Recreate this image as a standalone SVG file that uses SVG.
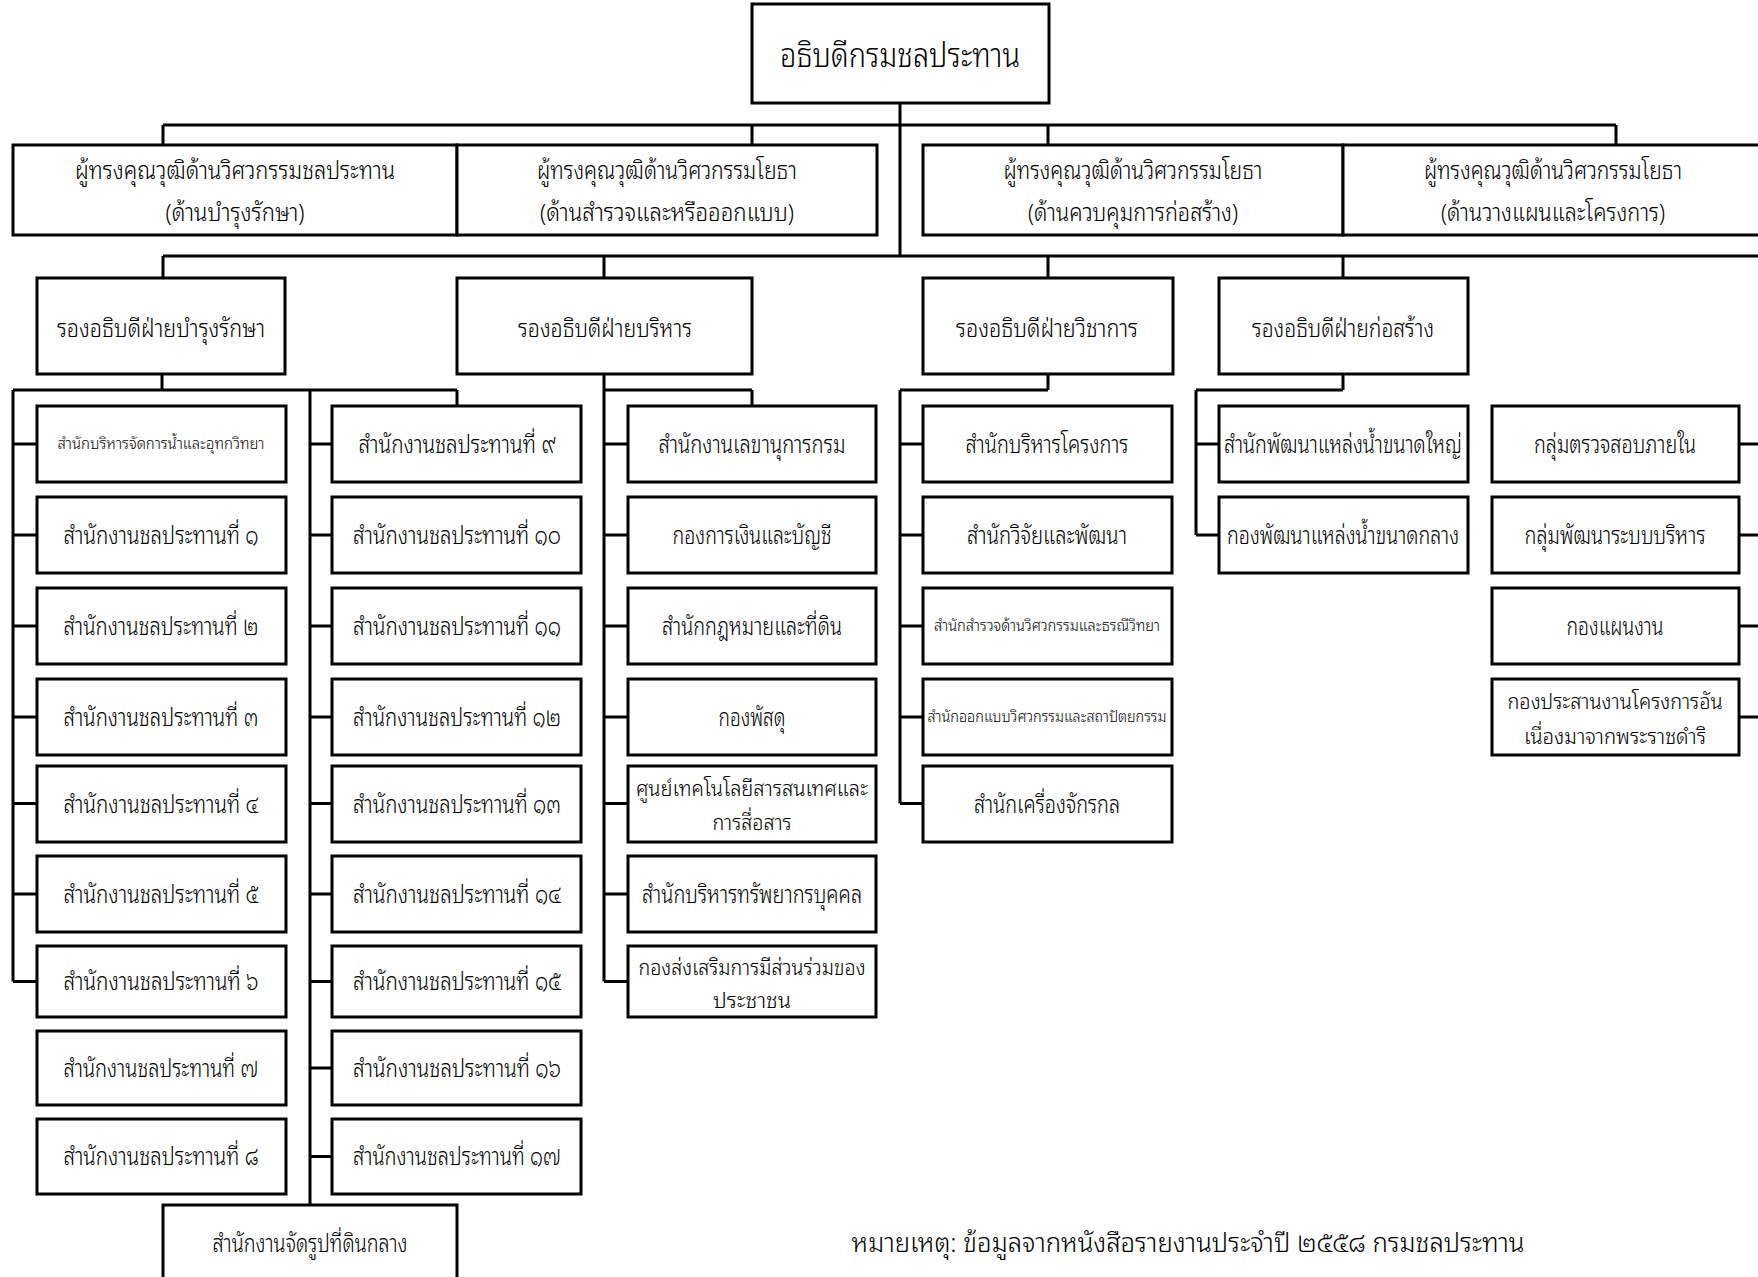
<svg xmlns="http://www.w3.org/2000/svg" width="1758" height="1277" viewBox="0 0 1758 1277">
<style>
.b{fill:#fff;stroke:#000;stroke-width:3}
.c{fill:none;stroke:#000;stroke-width:3}
text{font-family:"Noto Sans Thai Looped","Noto Sans Thai","Noto Sans","DejaVu Sans",sans-serif;font-weight:300;fill:#000;text-anchor:middle;font-size:24px}
.h{font-size:34px}
.s{font-size:15px}
.d{font-size:22px}
</style>
<rect width="1758" height="1277" fill="#fff"/>
<g id="connectors" class="c">
<path d="M900,103V256M163,125H1616M163,125V145M752,125V145M1048,125V145M1616,125V145"/>
<path d="M163,256H1758M163,256V278M604,256V278M1048,256V278M1343,256V278"/>
<path d="M162,374V390M13,390H457M13,390V981.5M457,390V406M310,390V1205"/>
<path d="M13,444H37M13,535H37M13,626H37M13,717H37M13,803.5H37M13,894H37M13,981.5H37"/>
<path d="M310,444H332M310,535H332M310,626H332M310,717H332M310,803.5H332M310,894H332M310,981.5H332M310,1068H332M310,1156.5H332"/>
<path d="M604,374V981.5M604,390H752M752,390V406M604,444H628M604,535H628M604,626H628M604,717H628M604,803.5H628M604,894H628M604,981.5H628"/>
<path d="M1048,374V390M900,390H1048M900,390V803.5M900,444H923M900,535H923M900,626H923M900,717H923M900,803.5H923"/>
<path d="M1343,374V390M1196,390H1343M1196,390V535M1196,444H1219M1196,535H1219"/>
<path d="M1739,444H1758M1739,535H1758M1739,626H1758M1739,717H1758"/>
</g>
<g id="director"><rect class="b" x="752" y="4" width="297" height="99"/><text class="h" x="900" y="67" textLength="240" lengthAdjust="spacingAndGlyphs">อธิบดีกรมชลประทาน</text></g>
<g id="expert-maint"><rect class="b" x="13" y="145" width="444" height="90"/><text x="235" y="179" textLength="320" lengthAdjust="spacingAndGlyphs">ผู้ทรงคุณวุฒิด้านวิศวกรรมชลประทาน</text><text x="235" y="221" textLength="139" lengthAdjust="spacingAndGlyphs">(ด้านบำรุงรักษา)</text></g>
<g id="expert-survey"><rect class="b" x="457" y="145" width="420" height="90"/><text x="667" y="179" textLength="260" lengthAdjust="spacingAndGlyphs">ผู้ทรงคุณวุฒิด้านวิศวกรรมโยธา</text><text x="667" y="221" textLength="254" lengthAdjust="spacingAndGlyphs">(ด้านสำรวจและหรือออกแบบ)</text></g>
<g id="expert-construct"><rect class="b" x="923" y="145" width="420" height="90"/><text x="1133" y="179" textLength="259" lengthAdjust="spacingAndGlyphs">ผู้ทรงคุณวุฒิด้านวิศวกรรมโยธา</text><text x="1133" y="221" textLength="210" lengthAdjust="spacingAndGlyphs">(ด้านควบคุมการก่อสร้าง)</text></g>
<g id="expert-plan"><rect class="b" x="1343" y="145" width="420" height="90"/><text x="1553" y="179" textLength="258" lengthAdjust="spacingAndGlyphs">ผู้ทรงคุณวุฒิด้านวิศวกรรมโยธา</text><text x="1553" y="221" textLength="224" lengthAdjust="spacingAndGlyphs">(ด้านวางแผนและโครงการ)</text></g>
<g id="dep-maint"><rect class="b" x="37" y="278" width="248" height="96"/><text x="161" y="337" textLength="208" lengthAdjust="spacingAndGlyphs">รองอธิบดีฝ่ายบำรุงรักษา</text></g>
<g id="dep-admin"><rect class="b" x="457" y="278" width="295" height="96"/><text x="605" y="337" textLength="174" lengthAdjust="spacingAndGlyphs">รองอธิบดีฝ่ายบริหาร</text></g>
<g id="dep-tech"><rect class="b" x="923" y="278" width="250" height="96"/><text x="1047" y="337" textLength="182" lengthAdjust="spacingAndGlyphs">รองอธิบดีฝ่ายวิชาการ</text></g>
<g id="dep-build"><rect class="b" x="1219" y="278" width="249" height="96"/><text x="1343" y="337" textLength="182" lengthAdjust="spacingAndGlyphs">รองอธิบดีฝ่ายก่อสร้าง</text></g>

<g id="c1-1"><rect class="b" x="37" y="406" width="249" height="76"/><text class="s" x="161" y="449" textLength="207" lengthAdjust="spacingAndGlyphs">สำนักบริหารจัดการน้ำและอุทกวิทยา</text></g>
<g id="c1-2"><rect class="b" x="37" y="497" width="249" height="76"/><text x="161" y="544" textLength="195" lengthAdjust="spacingAndGlyphs">สำนักงานชลประทานที่ ๑</text></g>
<g id="c1-3"><rect class="b" x="37" y="588" width="249" height="76"/><text x="161" y="635" textLength="195" lengthAdjust="spacingAndGlyphs">สำนักงานชลประทานที่ ๒</text></g>
<g id="c1-4"><rect class="b" x="37" y="679" width="249" height="76"/><text x="161" y="726" textLength="195" lengthAdjust="spacingAndGlyphs">สำนักงานชลประทานที่ ๓</text></g>
<g id="c1-5"><rect class="b" x="37" y="766" width="249" height="76"/><text x="161" y="813" textLength="195" lengthAdjust="spacingAndGlyphs">สำนักงานชลประทานที่ ๔</text></g>
<g id="c1-6"><rect class="b" x="37" y="856" width="249" height="76"/><text x="161" y="903" textLength="195" lengthAdjust="spacingAndGlyphs">สำนักงานชลประทานที่ ๕</text></g>
<g id="c1-7"><rect class="b" x="37" y="946" width="249" height="71"/><text x="161" y="990" textLength="195" lengthAdjust="spacingAndGlyphs">สำนักงานชลประทานที่ ๖</text></g>
<g id="c1-8"><rect class="b" x="37" y="1031" width="249" height="74"/><text x="161" y="1077" textLength="195" lengthAdjust="spacingAndGlyphs">สำนักงานชลประทานที่ ๗</text></g>
<g id="c1-9"><rect class="b" x="37" y="1119" width="249" height="75"/><text x="161" y="1165" textLength="195" lengthAdjust="spacingAndGlyphs">สำนักงานชลประทานที่ ๘</text></g>

<g id="c2-1"><rect class="b" x="332" y="406" width="249" height="76"/><text x="457" y="453" textLength="197" lengthAdjust="spacingAndGlyphs">สำนักงานชลประทานที่ ๙</text></g>
<g id="c2-2"><rect class="b" x="332" y="497" width="249" height="76"/><text x="457" y="544" textLength="208" lengthAdjust="spacingAndGlyphs">สำนักงานชลประทานที่ ๑๐</text></g>
<g id="c2-3"><rect class="b" x="332" y="588" width="249" height="76"/><text x="457" y="635" textLength="208" lengthAdjust="spacingAndGlyphs">สำนักงานชลประทานที่ ๑๑</text></g>
<g id="c2-4"><rect class="b" x="332" y="679" width="249" height="76"/><text x="457" y="726" textLength="208" lengthAdjust="spacingAndGlyphs">สำนักงานชลประทานที่ ๑๒</text></g>
<g id="c2-5"><rect class="b" x="332" y="766" width="249" height="76"/><text x="457" y="813" textLength="208" lengthAdjust="spacingAndGlyphs">สำนักงานชลประทานที่ ๑๓</text></g>
<g id="c2-6"><rect class="b" x="332" y="856" width="249" height="76"/><text x="457" y="903" textLength="208" lengthAdjust="spacingAndGlyphs">สำนักงานชลประทานที่ ๑๔</text></g>
<g id="c2-7"><rect class="b" x="332" y="946" width="249" height="71"/><text x="457" y="990" textLength="208" lengthAdjust="spacingAndGlyphs">สำนักงานชลประทานที่ ๑๕</text></g>
<g id="c2-8"><rect class="b" x="332" y="1031" width="249" height="74"/><text x="457" y="1077" textLength="208" lengthAdjust="spacingAndGlyphs">สำนักงานชลประทานที่ ๑๖</text></g>
<g id="c2-9"><rect class="b" x="332" y="1119" width="249" height="75"/><text x="457" y="1165" textLength="208" lengthAdjust="spacingAndGlyphs">สำนักงานชลประทานที่ ๑๗</text></g>
<g id="land"><rect class="b" x="163" y="1205" width="294" height="90"/><text x="310" y="1252" textLength="195" lengthAdjust="spacingAndGlyphs">สำนักงานจัดรูปที่ดินกลาง</text></g>

<g id="c3-1"><rect class="b" x="628" y="406" width="248" height="76"/><text x="752" y="453" textLength="187" lengthAdjust="spacingAndGlyphs">สำนักงานเลขานุการกรม</text></g>
<g id="c3-2"><rect class="b" x="628" y="497" width="248" height="76"/><text x="752" y="544" textLength="159" lengthAdjust="spacingAndGlyphs">กองการเงินและบัญชี</text></g>
<g id="c3-3"><rect class="b" x="628" y="588" width="248" height="76"/><text x="752" y="635" textLength="180" lengthAdjust="spacingAndGlyphs">สำนักกฎหมายและที่ดิน</text></g>
<g id="c3-4"><rect class="b" x="628" y="679" width="248" height="76"/><text x="752" y="726" textLength="67" lengthAdjust="spacingAndGlyphs">กองพัสดุ</text></g>
<g id="c3-5"><rect class="b" x="628" y="766" width="248" height="76"/><text class="d" x="752" y="796" textLength="232" lengthAdjust="spacingAndGlyphs">ศูนย์เทคโนโลยีสารสนเทศและ</text><text class="d" x="752" y="830" textLength="79" lengthAdjust="spacingAndGlyphs">การสื่อสาร</text></g>
<g id="c3-6"><rect class="b" x="628" y="856" width="248" height="76"/><text x="752" y="903" textLength="220" lengthAdjust="spacingAndGlyphs">สำนักบริหารทรัพยากรบุคคล</text></g>
<g id="c3-7"><rect class="b" x="628" y="946" width="248" height="71"/><text class="d" x="752" y="975" textLength="227" lengthAdjust="spacingAndGlyphs">กองส่งเสริมการมีส่วนร่วมของ</text><text class="d" x="752" y="1008" textLength="78" lengthAdjust="spacingAndGlyphs">ประชาชน</text></g>

<g id="c4-1"><rect class="b" x="923" y="406" width="249" height="76"/><text x="1047" y="453" textLength="163" lengthAdjust="spacingAndGlyphs">สำนักบริหารโครงการ</text></g>
<g id="c4-2"><rect class="b" x="923" y="497" width="249" height="76"/><text x="1047" y="544" textLength="160" lengthAdjust="spacingAndGlyphs">สำนักวิจัยและพัฒนา</text></g>
<g id="c4-3"><rect class="b" x="923" y="588" width="249" height="76"/><text class="s" x="1047" y="631" textLength="226" lengthAdjust="spacingAndGlyphs">สำนักสำรวจด้านวิศวกรรมและธรณีวิทยา</text></g>
<g id="c4-4"><rect class="b" x="923" y="679" width="249" height="76"/><text class="s" x="1047" y="722" textLength="239" lengthAdjust="spacingAndGlyphs">สำนักออกแบบวิศวกรรมและสถาปัตยกรรม</text></g>
<g id="c4-5"><rect class="b" x="923" y="766" width="249" height="76"/><text x="1047" y="813" textLength="146" lengthAdjust="spacingAndGlyphs">สำนักเครื่องจักรกล</text></g>

<g id="c5-1"><rect class="b" x="1219" y="406" width="249" height="76"/><text x="1343" y="453" textLength="238" lengthAdjust="spacingAndGlyphs">สำนักพัฒนาแหล่งน้ำขนาดใหญ่</text></g>
<g id="c5-2"><rect class="b" x="1219" y="497" width="249" height="76"/><text x="1343" y="544" textLength="232" lengthAdjust="spacingAndGlyphs">กองพัฒนาแหล่งน้ำขนาดกลาง</text></g>

<g id="c6-1"><rect class="b" x="1492" y="406" width="247" height="76"/><text x="1615" y="453" textLength="162" lengthAdjust="spacingAndGlyphs">กลุ่มตรวจสอบภายใน</text></g>
<g id="c6-2"><rect class="b" x="1492" y="497" width="247" height="76"/><text x="1615" y="544" textLength="181" lengthAdjust="spacingAndGlyphs">กลุ่มพัฒนาระบบบริหาร</text></g>
<g id="c6-3"><rect class="b" x="1492" y="588" width="247" height="76"/><text x="1615" y="635" textLength="97" lengthAdjust="spacingAndGlyphs">กองแผนงาน</text></g>
<g id="c6-4"><rect class="b" x="1492" y="679" width="247" height="76"/><text class="d" x="1615" y="709" textLength="215" lengthAdjust="spacingAndGlyphs">กองประสานงานโครงการอัน</text><text class="d" x="1615" y="744" textLength="182" lengthAdjust="spacingAndGlyphs">เนื่องมาจากพระราชดำริ</text></g>

<text x="1188" y="1252" style="font-size:26px" textLength="673" lengthAdjust="spacingAndGlyphs">หมายเหตุ: ข้อมูลจากหนังสือรายงานประจำปี ๒๕๕๘ กรมชลประทาน</text>
</svg>
